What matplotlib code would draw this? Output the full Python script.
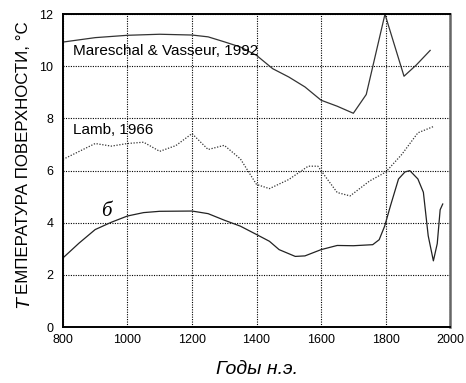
import matplotlib
matplotlib.use('Agg')
import matplotlib.pyplot as plt

plt.rcParams['font.family'] = ['Liberation Sans', 'DejaVu Sans']

# Mareschal & Vasseur, 1992
mv_years = [800, 900, 1000, 1100, 1200, 1250, 1300, 1350, 1400, 1450, 1500,
            1550, 1600, 1650, 1700, 1740, 1798, 1857, 1895, 1938]
mv_temp = [10.93, 11.1, 11.19, 11.23, 11.2, 11.13, 10.94, 10.74, 10.42, 9.91, 9.59,
           9.21, 8.7, 8.47, 8.2, 8.92, 12.0, 9.62, 10.05, 10.61]

# Lamb, 1966
lamb_years = [800, 900, 950, 1000, 1050, 1100, 1150, 1200, 1250, 1300, 1350, 1400,
              1440, 1500, 1560, 1590, 1620, 1650, 1690, 1750, 1800, 1850, 1900, 1950]
lamb_temp = [6.43, 7.04, 6.94, 7.04, 7.09, 6.74, 6.96, 7.42, 6.81, 6.97, 6.45, 5.47,
             5.31, 5.66, 6.17, 6.17, 5.66, 5.16, 5.03, 5.6, 5.94, 6.62, 7.45, 7.7]

# кривая б
b_years = [800, 850, 900, 950, 1000, 1050, 1100, 1200, 1250, 1300, 1350, 1400, 1440,
           1470, 1520, 1550, 1600, 1650, 1700, 1760, 1780, 1797, 1815, 1840, 1860,
           1875, 1900, 1917, 1932, 1948, 1960, 1969, 1977]
b_temp = [2.65, 3.22, 3.74, 4.02, 4.26, 4.39, 4.44, 4.45, 4.35, 4.10, 3.87, 3.55, 3.29,
          2.97, 2.71, 2.73, 2.97, 3.13, 3.12, 3.16, 3.35, 3.87, 4.65, 5.68, 5.95,
          6.0, 5.68, 5.17, 3.5, 2.54, 3.2, 4.5, 4.72]

x_ticks = [800, 1000, 1200, 1400, 1600, 1800, 2000]
y_ticks = [0, 2, 4, 6, 8, 10, 12]

fig = plt.figure(figsize=(4.66, 3.83), dpi=100)
ax = fig.add_axes([0.135, 0.146, 0.831, 0.817])

ax.plot(mv_years, mv_temp, color='#333333', lw=0.9)
ax.plot(lamb_years, lamb_temp, color='#333333', lw=0.9, linestyle=(0, (1, 1.3)))
ax.plot(b_years, b_temp, color='#222222', lw=0.9)

ax.set_xlim(800, 2000)
ax.set_ylim(0, 12)
ax.set_xticks(x_ticks)
ax.set_yticks(y_ticks)
ax.grid(True, color='black', linestyle=(0, (1, 1.2)), lw=0.8)
ax.tick_params(length=0, labelsize=9)
ax.tick_params(axis='y', pad=7)
ax.tick_params(axis='x', pad=5)

for s in ['left', 'bottom', 'top']:
    ax.spines[s].set_linewidth(1.4)
    ax.spines[s].set_color('black')
ax.spines['right'].set_linewidth(1.8)
ax.spines['right'].set_color('#666666')

ax.text(831, 10.45, 'Mareschal & Vasseur, 1992', fontsize=11, va='baseline')
ax.text(831, 7.4, 'Lamb, 1966', fontsize=11, va='baseline')
ax.text(935, 4.45, 'б', fontsize=15, style='italic', family='Liberation Serif',
        ha='center', va='center')

ax.set_xlabel('Годы н.э.', fontsize=14, style='italic', labelpad=11)

# подпись оси Y в виде капители
fig.text(28 / 466, 1 - 308 / 383, 'Т', fontsize=14, style='italic', rotation=90,
         rotation_mode='anchor', ha='left', va='baseline')
fig.text(28 / 466, 1 - 294 / 383, 'ЕМПЕРАТУРА ПОВЕРХНОСТИ, °С', fontsize=12.2,
         rotation=90, rotation_mode='anchor', ha='left', va='baseline')

fig.savefig('out.png', dpi=100)
